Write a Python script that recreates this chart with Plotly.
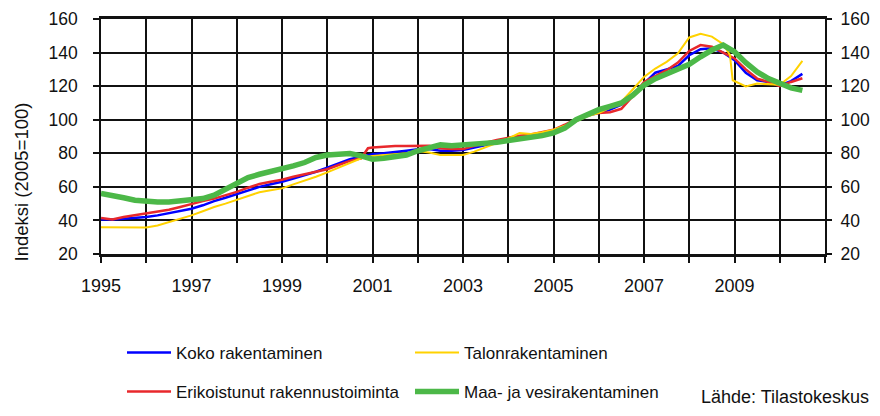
import plotly.graph_objects as go

# ---- data (decimal years, index 2005=100) ----
koko_t = [1995.0,1995.25,1995.5,1995.75,1996.0,1996.25,1996.5,1996.75,1997.0,1997.25,1997.5,1997.75,
          1998.0,1998.25,1998.5,1998.75,1999.0,1999.25,1999.5,1999.75,2000.0,2000.25,2000.5,2000.75,
          2001.0,2001.25,2001.5,2001.75,2002.0,2002.25,2002.5,2002.75,2003.0,2003.25,2003.5,2003.75,
          2004.0,2004.25,2004.5,2004.75,2005.0,2005.25,2005.5,2005.75,2006.0,2006.25,2006.5,2006.75,
          2007.0,2007.25,2007.5,2007.75,2008.0,2008.25,2008.5,2008.75,2009.0,2009.25,2009.5,2009.75,
          2010.0,2010.25,2010.5]
koko_v = [40.5,40.5,41,41.5,42,43,44.4,45.5,47,49,51.5,53.5,
          55.8,58,60,61.5,63,65,66.8,69,71.5,74,76.5,78,
          79.4,80,80.6,81.5,82.4,82.5,81.5,81.5,82,83.5,85,86.5,
          88.2,89.5,90.8,92,93.2,96,100,102.5,104,106,109,115,
          121.5,128,130,132,138.4,142,142.5,140,135.5,128,123.5,122.5,
          120.5,123,127.3]

talo_t = [1995.0,1995.25,1995.5,1995.75,1996.0,1996.25,1996.5,1996.75,1997.0,1997.25,1997.5,1997.75,
          1998.0,1998.25,1998.5,1998.75,1999.0,1999.25,1999.5,1999.75,2000.0,2000.25,2000.5,2000.75,
          2001.0,2001.25,2001.5,2001.75,2002.0,2002.25,2002.5,2002.75,2003.0,2003.25,2003.5,2003.75,
          2004.0,2004.25,2004.5,2004.75,2005.0,2005.25,2005.5,2005.75,2006.0,2006.25,2006.5,2006.75,
          2007.0,2007.25,2007.5,2007.75,2008.0,2008.25,2008.5,2008.75,2008.9,2008.96,2009.25,2009.5,
          2009.75,2010.0,2010.25,2010.5]
talo_v = [36,36,36,36,35.8,37,39,41,43,45.5,48,50,
          52.4,54.5,56.8,58,59.1,61.5,63.7,66,68.6,71.5,74.5,77,
          78.4,79,79.4,80,81.4,80.5,79,79,79,81,83.7,86.5,
          88.8,92,91.5,92.5,94,96.5,99,102,104,107,110.8,118,
          125.5,130.5,134.5,139.5,149,151.2,149.5,145,138.5,123.5,119.8,121.5,
          121,120.8,126,135]

erik_t = [1995.0,1995.25,1995.5,1995.75,1996.0,1996.25,1996.5,1996.75,1997.0,1997.25,1997.5,1997.75,
          1998.0,1998.25,1998.5,1998.75,1999.0,1999.25,1999.5,1999.75,2000.0,2000.25,2000.5,2000.75,
          2000.9,2001.0,2001.25,2001.5,2001.75,2002.0,2002.25,2002.5,2002.75,2003.0,2003.25,2003.5,
          2003.75,2004.0,2004.25,2004.5,2004.75,2005.0,2005.25,2005.5,2005.75,2006.0,2006.25,2006.5,
          2006.75,2007.0,2007.25,2007.5,2007.75,2008.0,2008.25,2008.5,2008.75,2009.0,2009.25,2009.5,
          2009.75,2010.0,2010.25,2010.5]
erik_v = [41.5,40.5,42,43,44,45,46.4,48,49.9,51.5,53,55,
          57,59.5,61.7,63,64.2,66,67.6,69,70.5,73,75.5,77,
          83,83.5,84,84.3,84.3,84.3,84.5,83,82.5,82.5,84.5,86.3,
          88,89.2,90.5,91.2,92.5,94,97,100.5,103,104,104.5,106.5,
          114,122.5,126,129.5,134,141,144.5,143.5,140,136.5,130,124.5,
          122.5,120,122.5,124.7]

maa_t = [1995.0,1995.25,1995.5,1995.75,1996.0,1996.25,1996.5,1996.75,1997.0,1997.25,1997.5,1997.75,
         1998.0,1998.25,1998.5,1998.75,1999.0,1999.25,1999.5,1999.75,2000.0,2000.25,2000.5,2000.75,
         2001.0,2001.25,2001.5,2001.75,2002.0,2002.25,2002.5,2002.75,2003.0,2003.25,2003.5,2003.75,
         2004.0,2004.25,2004.5,2004.75,2005.0,2005.25,2005.5,2005.75,2006.0,2006.25,2006.5,2006.75,
         2007.0,2007.25,2007.5,2007.75,2008.0,2008.25,2008.5,2008.75,2009.0,2009.25,2009.5,2009.75,
         2010.0,2010.25,2010.5]
maa_v = [56,55,53.5,52,51.3,51,51,51.5,52,53,55,58.5,
         62.5,65.5,67.5,69,70.7,72.5,74.5,77.5,79,79.8,79.8,78.5,
         76.5,77,78,79,81.5,83.5,85,84.5,84.9,85,85.3,86.5,
         87.6,88.5,89.2,90.5,92.2,95,100,103,106,108,110,114.5,
         120.5,124.5,127.5,130,133,137.5,141.5,144.5,140.5,134,128.5,124.5,
         121.5,119,117.5]

names = ["Koko rakentaminen", "Erikoistunut rakennustoiminta", "Talonrakentaminen", "Maa- ja vesirakentaminen"]
year_ticks = list(range(1995, 2012))
year_labels = [str(y) if (y % 2 == 1 and y < 2011) else "" for y in year_ticks]
y_ticks = [20, 40, 60, 80, 100, 120, 140, 160]

FONT = "Liberation Sans, Arial, sans-serif"

fig = go.Figure()
fig.add_trace(go.Scatter(x=koko_t, y=koko_v, mode="lines", name=names[0],
                         line=dict(color="#0000ff", width=2.5), legend="legend"))
fig.add_trace(go.Scatter(x=erik_t, y=erik_v, mode="lines", name=names[1],
                         line=dict(color="#e8282c", width=2.5), legend="legend2"))
fig.add_trace(go.Scatter(x=talo_t, y=talo_v, mode="lines", name=names[2],
                         line=dict(color="#ffd200", width=2), legend="legend"))
fig.add_trace(go.Scatter(x=maa_t, y=maa_v, mode="lines", name=names[3],
                         line=dict(color="#4cb848", width=5.5), legend="legend2"))
# right-hand axis copy
fig.add_trace(go.Scatter(x=[1995], y=[20], mode="markers", marker=dict(opacity=0),
                         yaxis="y2", showlegend=False, hoverinfo="skip"))

# page body has an 8px margin on every side: figure is 864x400 placed at (8, 8)
# plot area in page pixels: x 101..825, y 19..254
PB, PH = 254, 235
axis_font = dict(family=FONT, size=18, color="#111")
yfont = dict(family=FONT, size=17.5, color="#111")
LX = (127 - 101 - 5) / 724
fig.update_layout(
    width=864, height=400,
    margin=dict(l=93, r=47, t=11, b=154, autoexpand=False),
    paper_bgcolor="white", plot_bgcolor="white",
    showlegend=True,
    xaxis=dict(range=[1995, 2011], tickmode="array", tickvals=year_ticks, ticktext=year_labels,
               showgrid=True, gridcolor="#111", gridwidth=1.6,
               showline=True, linecolor="#111", linewidth=2.5, mirror=True,
               ticks="outside", ticklen=6, tickwidth=1.6, tickcolor="#111",
               tickfont=axis_font, ticklabelstandoff=8, zeroline=False,
               ticklabeloverflow="allow"),
    yaxis=dict(range=[20, 160], tickmode="array", tickvals=y_ticks,
               showgrid=True, gridcolor="#111", gridwidth=1.6,
               showline=True, linecolor="#111", linewidth=1.6, mirror=True,
               ticks="outside", ticklen=6, tickwidth=1.6, tickcolor="#111",
               tickfont=yfont, ticklabelstandoff=12, zeroline=False,
               ticklabeloverflow="allow"),
    yaxis2=dict(range=[20, 160], tickmode="array", tickvals=y_ticks, overlaying="y", side="right",
                showgrid=False, showline=False, zeroline=False,
                ticks="outside", ticklen=6, tickwidth=1.6, tickcolor="#111",
                tickfont=yfont, ticklabelstandoff=5, ticklabeloverflow="allow"),
    legend=dict(orientation="h", x=LX, xanchor="left", y=(PB - 353) / PH, yanchor="middle",
                entrywidth=229, entrywidthmode="pixels", font=dict(family=FONT, size=17, color="#111"),
                itemwidth=44, bgcolor="rgba(0,0,0,0)", traceorder="normal"),
    legend2=dict(orientation="h", x=LX, xanchor="left", y=(PB - 392) / PH, yanchor="middle",
                 entrywidth=229, entrywidthmode="pixels", font=dict(family=FONT, size=17, color="#111"),
                 itemwidth=44, bgcolor="rgba(0,0,0,0)", traceorder="normal"),
    annotations=[
        dict(text="Indeksi (2005=100)", textangle=-90, xref="paper", yref="paper",
             x=(21 - 101) / 724, y=(PB - 182.5) / PH, xanchor="center", yanchor="middle",
             showarrow=False, font=dict(family=FONT, size=18.5, color="#111")),
        dict(text="Lähde: Tilastokeskus", xref="paper", yref="paper",
             x=(871 - 101) / 724, y=(PB - 397) / PH, xanchor="right", yanchor="middle",
             showarrow=False, font=dict(family=FONT, size=18, color="#111")),
    ],
)

fig.write_html("out.html")
